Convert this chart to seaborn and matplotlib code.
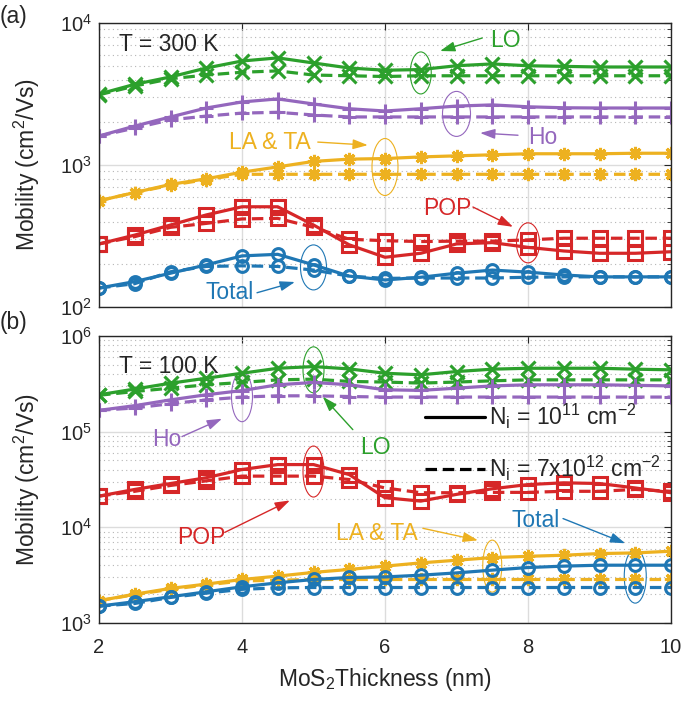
import numpy as np
import pandas as pd
import seaborn as sns
import matplotlib
matplotlib.use("Agg")
import matplotlib.pyplot as plt
from matplotlib.patches import Ellipse
from matplotlib.lines import Line2D
from matplotlib.transforms import ScaledTranslation

sns.set_style("white")
plt.rcParams["font.family"] = ["Liberation Sans", "DejaVu Sans"]
plt.rcParams["mathtext.fontset"] = "custom"
plt.rcParams["mathtext.rm"] = "Liberation Sans"
plt.rcParams["mathtext.it"] = "Liberation Sans"

# ---------------- data ----------------
thickness = [2, 2.5, 3, 3.5, 4, 4.5, 5, 5.5, 6, 6.5, 7, 7.5, 8, 8.5, 9, 9.5, 10]

# panel (a), T = 300 K
lo_a_low = [3160, 3700, 4170, 4820, 5400, 5680, 5230, 4820, 4650, 4700, 5000, 5150, 5000, 4950, 4900, 4900, 4900]
lo_a_high = [3120, 3600, 4050, 4300, 4500, 4600, 4300, 4250, 4200, 4250, 4250, 4250, 4250, 4250, 4250, 4250, 4250]
ho_a_low = [1600, 1880, 2180, 2520, 2780, 2920, 2690, 2490, 2400, 2490, 2600, 2650, 2570, 2530, 2520, 2520, 2520]
ho_a_high = [1600, 1820, 2080, 2210, 2320, 2350, 2250, 2180, 2180, 2180, 2180, 2180, 2180, 2180, 2180, 2180, 2180]
la_a_low = [560, 640, 730, 800, 890, 970, 1060, 1100, 1110, 1140, 1160, 1180, 1200, 1200, 1200, 1210, 1210]
la_a_high = [560, 640, 720, 790, 860, 860, 860, 860, 860, 860, 860, 860, 860, 860, 860, 860, 860]
pop_a_low = [278, 321, 378, 445, 508, 508, 378, 274, 224, 239, 278, 284, 263, 248, 239, 239, 245]
pop_a_high = [278, 313, 364, 388, 417, 421, 364, 300, 293, 289, 291, 291, 297, 305, 305, 305, 305]
tot_a_low = [136, 151, 173, 198, 229, 235, 198, 165, 155, 162, 173, 182, 176, 168, 163, 163, 163]
tot_a_high = [136, 146, 177, 193, 195, 193, 182, 165, 159, 160, 160, 160, 162, 163, 163, 163, 163]

# panel (b), T = 100 K
lo_b_low = [243e3, 279e3, 321e3, 362e3, 408e3, 460e3, 479e3, 453e3, 408e3, 393e3, 425e3, 450e3, 460e3, 460e3, 460e3, 450e3, 443e3]
lo_b_high = [240e3, 263e3, 285e3, 309e3, 327e3, 348e3, 354e3, 335e3, 330e3, 322e3, 330e3, 340e3, 348e3, 348e3, 348e3, 348e3, 348e3]
ho_b_low = [167e3, 187e3, 215e3, 243e3, 269e3, 309e3, 327e3, 309e3, 274e3, 270e3, 285e3, 301e3, 309e3, 309e3, 309e3, 305e3, 301e3]
ho_b_high = [167e3, 177e3, 196e3, 215e3, 230e3, 237e3, 237e3, 233e3, 230e3, 230e3, 230e3, 230e3, 230e3, 230e3, 230e3, 230e3, 230e3]
pop_b_low = [21.2e3, 24.9e3, 28.7e3, 33.0e3, 40.2e3, 45.3e3, 45.3e3, 35.6e3, 20.4e3, 18.8e3, 22.1e3, 25.3e3, 28.0e3, 29.2e3, 28.7e3, 25.8e3, 23.0e3]
pop_b_high = [21.2e3, 23.8e3, 27.4e3, 30.6e3, 34.3e3, 34.3e3, 34.3e3, 31.6e3, 25.8e3, 23.0e3, 23.0e3, 23.2e3, 23.2e3, 23.8e3, 23.8e3, 24.9e3, 23.8e3]
la_b_low = [1710, 2000, 2300, 2550, 2850, 3090, 3380, 3630, 3930, 4250, 4530, 4830, 4980, 5110, 5320, 5400, 5630]
la_b_high = [1710, 1980, 2250, 2500, 2750, 2800, 2850, 2850, 2850, 2850, 2850, 2850, 2850, 2850, 2850, 2850, 2850]
tot_b_low = [1500, 1670, 1880, 2120, 2390, 2630, 2850, 2990, 3030, 3160, 3340, 3570, 3800, 3930, 4020, 4020, 4020]
tot_b_high = [1500, 1600, 1850, 2050, 2250, 2330, 2350, 2350, 2350, 2350, 2350, 2350, 2350, 2350, 2350, 2350, 2350]

C_LO = "#2ca02c"
C_HO = "#9467bd"
C_LA = "#EDB120"
C_POP = "#d62728"
C_TOT = "#1f77b4"

series_a = [
    (lo_a_low, lo_a_high, C_LO, "x", True),
    (ho_a_low, ho_a_high, C_HO, "+", True),
    (la_a_low, la_a_high, C_LA, (8, 2, 0), True),
    (pop_a_low, pop_a_high, C_POP, "s", False),
    (tot_a_low, tot_a_high, C_TOT, "o", False),
]
series_b = [
    (lo_b_low, lo_b_high, C_LO, "x", True),
    (ho_b_low, ho_b_high, C_HO, "+", True),
    (pop_b_low, pop_b_high, C_POP, "s", False),
    (la_b_low, la_b_high, C_LA, (8, 2, 0), True),
    (tot_b_low, tot_b_high, C_TOT, "o", False),
]

fig = plt.figure(figsize=(6.84, 7.04), dpi=100)
W, H = 684, 704
ax_a = fig.add_axes([99 / W, 1 - 307 / H, 572 / W, 284 / H])
ax_b = fig.add_axes([99 / W, 1 - 623 / H, 572 / W, 287 / H])

FS = 16.5      # annotation / label text
TFS = 14.5     # tick labels
INK = "#262626"


def draw(ax, series, ylim):
    for low, high, col, mk, lined in series:
        for vals, ls in ((high, (0, (3.6, 1.8))), (low, "-")):
            kw = dict(marker=mk, markersize=9.5 if mk != "o" else 8.5,
                      markeredgewidth=2.2, markeredgecolor=col,
                      markerfacecolor=(col if lined else "none"))
            sns.lineplot(x=thickness, y=vals, ax=ax, color=col, linewidth=2.3,
                         linestyle=ls, legend=False, **kw)
    ax.set_yscale("log")
    ax.set_xlim(2, 10)
    ax.set_ylim(*ylim)
    ax.set_xticks([2, 4, 6, 8, 10])
    ax.grid(True, which="major", color="#dcdcdc", linewidth=1.0, linestyle="-")
    ax.grid(True, which="minor", axis="y", color="#b5b5b5", linewidth=0.8, linestyle=(0, (1, 3)))
    ax.set_axisbelow(True)
    ax.tick_params(which="both", direction="in", top=True, right=True,
                   labelsize=TFS, color=INK, labelcolor=INK)
    ax.tick_params(which="major", length=5, pad=5)
    ax.tick_params(axis="x", which="major", pad=11)
    ax.tick_params(which="minor", length=3)
    ax.tick_params(axis="x", which="minor", bottom=False, top=False)
    for s in ax.spines.values():
        s.set_color(INK)
        s.set_linewidth(1.0)
    ax.set_ylabel("Mobility (cm$^2$/Vs)", fontsize=FS, color=INK)


draw(ax_a, series_a, (1e2, 1e4))
draw(ax_b, series_b, (1e3, 1e6))
ax_a.set_xticklabels([])
ax_a.set_xlabel("")
ax_b.set_xlabel("MoS$_2$Thickness (nm)", fontsize=FS, color=INK, labelpad=6)
ax_a.yaxis.set_label_coords(-0.10, 0.5)
ax_b.yaxis.set_label_coords(-0.10, 0.5)

ax_a.text(0.035, 0.925, "T = 300 K", transform=ax_a.transAxes, fontsize=FS, va="center")
ax_b.text(0.035, 0.895, "T = 100 K", transform=ax_b.transAxes, fontsize=FS, va="center")
fig.text(0.0, 1 - 16 / H, "(a)", fontsize=FS, va="center")
fig.text(0.0, 1 - 322 / H, "(b)", fontsize=FS, va="center")


def ellipse(ax, x, y, wpx, hpx, col):
    tr = fig.dpi_scale_trans + ScaledTranslation(x, y, ax.transData)
    ax.add_patch(Ellipse((0, 0), wpx / 100, hpx / 100, transform=tr,
                         fill=False, edgecolor=col, linewidth=0.8, clip_on=False))


def arrow(ax, tail, head, col):
    ax.annotate("", xy=head, xytext=tail,
                arrowprops=dict(arrowstyle="-|>,head_length=0.9,head_width=0.3",
                                color=col, lw=1.0, shrinkA=0, shrinkB=0))


def label(ax, x, y, s, col):
    ax.text(x, y, s, color=col, fontsize=FS, ha="center", va="center")


# panel (a) annotations
label(ax_a, 7.68, 7590, "LO", C_LO)
arrow(ax_a, (7.36, 7840), (6.77, 6350), C_LO)
ellipse(ax_a, 6.5, 4450, 21, 42, C_LO)
label(ax_a, 8.20, 1550, "Ho", C_HO)
arrow(ax_a, (7.86, 1620), (7.33, 1680), C_HO)
ellipse(ax_a, 7.0, 2290, 28, 45, C_HO)
label(ax_a, 4.39, 1430, "LA & TA", C_LA)
arrow(ax_a, (5.06, 1450), (5.76, 1380), C_LA)
ellipse(ax_a, 6.0, 968, 26, 57, C_LA)
label(ax_a, 6.87, 490, "POP", C_POP)
arrow(ax_a, (7.23, 506), (7.79, 367), C_POP)
ellipse(ax_a, 8.0, 283, 23, 40, C_POP)
label(ax_a, 3.82, 126, "Total", C_TOT)
arrow(ax_a, (4.21, 126), (4.74, 150), C_TOT)
ellipse(ax_a, 5.0, 190, 26, 45, C_TOT)

# panel (b) annotations
ellipse(ax_b, 4.0, 232e3, 21, 50, C_HO)
ellipse(ax_b, 5.0, 443e3, 21, 46, C_LO)
label(ax_b, 2.95, 82.6e3, "Ho", C_HO)
arrow(ax_b, (3.16, 88.8e3), (3.72, 136.6e3), C_HO)
label(ax_b, 5.87, 68.1e3, "LO", C_LO)
arrow(ax_b, (5.55, 105e3), (5.13, 232e3), C_LO)
ellipse(ax_b, 5.0, 38.3e3, 21, 51, C_POP)
label(ax_b, 3.43, 7870, "POP", C_POP)
arrow(ax_b, (3.76, 8860), (4.67, 19100), C_POP)
label(ax_b, 5.89, 8660, "LA & TA", C_LA)
arrow(ax_b, (6.53, 9770), (7.30, 7320), C_LA)
ellipse(ax_b, 7.5, 3930, 19, 52, C_LA)
label(ax_b, 8.11, 11800, "Total", C_TOT)
arrow(ax_b, (8.49, 12350), (9.36, 6810), C_TOT)
ellipse(ax_b, 9.5, 3090, 22, 54, C_TOT)

handles = [Line2D([], [], color="k", lw=2.3, ls="-"),
           Line2D([], [], color="k", lw=2.3, ls=(0, (3.6, 1.8)))]
labels = ["N$_\\mathregular{i}$ = 10$^{11}$ cm$^{-2}$",
          "N$_\\mathregular{i}$ = 7x10$^{12}$ cm$^{-2}$"]
ax_b.legend(handles, labels, loc="upper left", bbox_to_anchor=(0.57, 0.77),
            frameon=False, fontsize=FS, handlelength=2.6, handletextpad=0.2,
            labelspacing=1.0, borderaxespad=0, borderpad=0)

fig.savefig("out.png", dpi=100)
